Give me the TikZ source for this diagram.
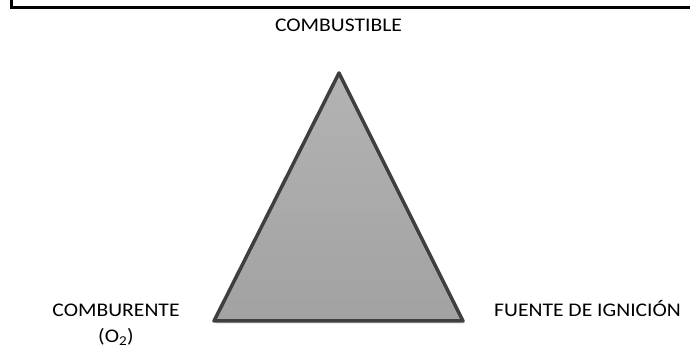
\documentclass[tikz,border=0pt]{standalone}
\usepackage{fontspec}
\usetikzlibrary{calc}
\setmainfont{Carlito}[FakeStretch=1.12]
\definecolor{edgegray}{HTML}{3F3F3F}
\definecolor{filltop}{HTML}{B3B3B3}
\definecolor{fillbot}{HTML}{A2A2A2}
\begin{document}
\begin{tikzpicture}[x=1pt,y=1pt,
  lbl/.style={font=\fontsize{19.3}{26}\selectfont, text=black, inner sep=0pt, align=center},
  frameline/.style={line width=3pt, black},
  tri/.style={line width=3.5pt, draw=edgegray, line join=round, top color=filltop, bottom color=fillbot}]
\useasboundingbox (0,0) rectangle (690,352);
\draw[frameline] (11.5,352) -- (11.5,344) -- (690,344);
\coordinate (apex) at (339,279);
\coordinate (bl) at (214,31);
\coordinate (br) at (463,31);
\fill[gray!25, opacity=0.6] ($(apex)+(2,-3)$) -- ($(bl)+(2,-3)$) -- ($(br)+(2,-3)$) -- cycle;
\path[tri] (apex) -- (bl) -- (br) -- cycle;
\node[lbl, anchor=base] (fuel) at (338.5,320.5) {COMBUSTIBLE};
\node[lbl, anchor=base] (oxy) at (116,9.5) {COMBURENTE\\(O\textsubscript{2})};
\node[lbl, anchor=base west] (ign) at (494,35) {FUENTE DE IGNICIÓN};
\end{tikzpicture}
\end{document}
